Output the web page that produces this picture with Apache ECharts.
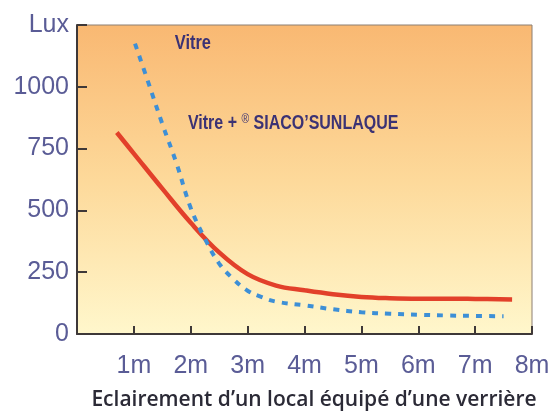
<!DOCTYPE html>
<html><head><meta charset="utf-8">
<script src="https://cdn.jsdelivr.net/npm/echarts@6/dist/echarts.min.js"></script>
<style>html,body{margin:0;padding:0;background:#fff}#c{width:554px;height:414px}</style>
</head><body><div id="c"></div>
<script>
// Distances (m) and illuminance (Lux)
const sunlaqueX = [0.70, 1.0, 1.5, 2.0, 2.5, 3.0, 3.5, 4.0, 4.5, 5.0, 5.5, 6.0, 6.5, 7.0, 7.65];
const sunlaqueY = [815, 730, 588, 450, 330, 242, 196, 177, 161, 150, 145, 143, 143, 142, 140];
const vitreX = [1.02, 1.25, 1.5, 1.75, 2.0, 2.25, 2.5, 2.75, 3.0, 3.25, 3.5, 4.0, 4.5, 5.0, 5.5, 6.0, 6.5, 7.0, 7.5];
const vitreY = [1175, 1020, 850, 690, 510, 385, 285, 222, 175, 149, 131, 116, 100, 88, 82, 78, 75, 73, 72];
const xTickLabels = ['', '1m', '2m', '3m', '4m', '5m', '6m', '7m', '8m'];
const yTickLabels = ['0', '250', '500', '750', '1000', 'Lux'];
const xTitle = "Eclairement d\u2019un local \u00e9quip\u00e9 d\u2019une verri\u00e8re";

const chart = echarts.init(document.getElementById('c'), null, {renderer: 'canvas'});
const labelColor = '#5a5c96';
const axisColor = '#3e3838';
chart.setOption({
  animation: false,
  grid: {
    left: 77, right: 22, top: 25, bottom: 80,
    show: true,
    borderColor: '#8c7f72', borderWidth: 1,
    backgroundColor: new echarts.graphic.LinearGradient(0, 0, 0, 1, [
      {offset: 0, color: '#f9b872'},
      {offset: 0.5, color: '#fdd99a'},
      {offset: 1, color: '#fff7cc'}
    ])
  },
  xAxis: {
    type: 'value', min: 0, max: 8, interval: 1,
    axisLine: {lineStyle: {color: axisColor, width: 2}},
    axisTick: {inside: true, length: 8, lineStyle: {color: axisColor, width: 2}},
    splitLine: {show: false},
    axisLabel: {
      formatter: v => xTickLabels[Math.round(v)],
      color: labelColor, fontSize: 25, fontFamily: 'Liberation Sans', margin: 20
    }
  },
  yAxis: {
    type: 'value', min: 0, max: 1250, interval: 250,
    axisLine: {show: true, lineStyle: {color: axisColor, width: 2}},
    axisTick: {show: true, inside: true, length: 10, lineStyle: {color: axisColor, width: 2}},
    splitLine: {show: false},
    axisLabel: {
      formatter: v => yTickLabels[Math.round(v / 250)],
      color: labelColor, fontSize: 25, fontFamily: 'Liberation Sans', margin: 8
    }
  },
  series: [
    {
      name: 'Vitre + SIACO\'SUNLAQUE', type: 'line', smooth: 0.4, symbol: 'none',
      data: sunlaqueX.map((x, i) => [x, sunlaqueY[i]]),
      lineStyle: {color: '#e2402a', width: 4.5}
    },
    {
      name: 'Vitre', type: 'line', smooth: 0.4, symbol: 'none',
      data: vitreX.map((x, i) => [x, vitreY[i]]),
      lineStyle: {color: '#3d8fd6', width: 4, type: [6, 7], cap: 'butt'}
    }
  ]
});

const vitreLabelAt = [1.72, 1175];
const sunLabelAt = [1.95, 850];
const p1 = chart.convertToPixel({gridIndex: 0}, vitreLabelAt);
const p2 = chart.convertToPixel({gridIndex: 0}, sunLabelAt);
const annFont = 'bold 20px "Liberation Sans", sans-serif';
chart.setOption({
  graphic: [
    {type: 'text', x: p1[0], y: p1[1], scaleX: 0.82, style: {text: 'Vitre', font: annFont, fill: '#3b3274', verticalAlign: 'middle'}},
    {type: 'text', x: p2[0], y: p2[1], scaleX: 0.8, style: {
      text: 'Vitre + {s|\u00ae} SIACO\u2019SUNLAQUE', font: annFont, fill: '#3b3274', verticalAlign: 'middle',
      rich: {s: {font: '13px "Liberation Sans", sans-serif', fill: '#3b3274', verticalAlign: 'bottom', padding: [0, 0, 9, 0]}}
    }},
    {type: 'text', x: 314, y: 400, style: {
      text: xTitle, font: '600 21px "Open Sans", sans-serif', fill: '#2b2a36', align: 'center', verticalAlign: 'middle'
    }}
  ]
});
</script></body></html>
